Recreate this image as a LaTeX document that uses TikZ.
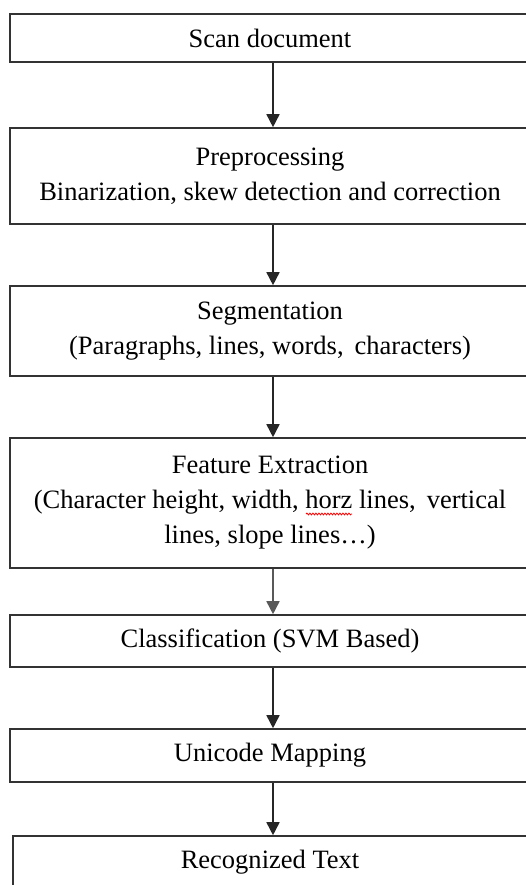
\documentclass[tikz,border=0pt]{standalone}
\usepackage{fontspec}
\setmainfont{Liberation Serif}
\usetikzlibrary{arrows.meta,decorations.pathmorphing}
\begin{document}
\begin{tikzpicture}[x=1pt,y=-1pt,
  stagebox/.style={draw=black!80, line width=1.6pt, rectangle, minimum width=520pt, inner sep=0pt,
    align=center, font=\fontsize{26.5pt}{35pt}\selectfont, text=black},
  arr/.style={draw=black!85, line width=1.6pt, -{Triangle[width=13pt,length=13pt]}},
  spell/.style={draw=red, line width=0.8pt, decorate, decoration={snake, amplitude=0.9pt, segment length=3pt}}]
\useasboundingbox (0,0) rectangle (525,885);
\fill[white] (0,0) rectangle (525,885);
\node[stagebox, minimum height=48pt] (b1) at (270,38) {Scan document};
\node[stagebox, minimum height=96pt] (b2) at (270,176) {Preprocessing\\Binarization, skew detection and correction};
\node[stagebox, minimum height=90pt] (b3) at (270,331) {Segmentation\\(Paragraphs, lines, words,\, characters)};
\node[stagebox, minimum height=130pt] (b4) at (270,503) {Feature Extraction\\(Character height, width, horz lines,\, vertical\\lines, slope lines\ldots)};
\node[stagebox, minimum height=52pt] (b5) at (270,641) {Classification (SVM Based)};
\node[stagebox, minimum height=53pt] (b6) at (270,755.5) {Unicode Mapping};
\node[stagebox, minimum height=52pt, minimum width=514pt] (b7) at (270,862) {Recognized Text};
\coordinate (ax) at (273,0);
\draw[arr] (b1.south -| ax) -- (b2.north -| ax);
\draw[arr] (b2.south -| ax) -- (b3.north -| ax);
\draw[arr] (b3.south -| ax) -- (b4.north -| ax);
\draw[arr, draw=black!65] (b4.south -| ax) -- (b5.north -| ax);
\draw[arr] (b5.south -| ax) -- (b6.north -| ax);
\draw[arr] (b6.south -| ax) -- (b7.north -| ax);
\coordinate (w1) at ([shift={(36,11)}]b4.center);
\coordinate (w2) at ([shift={(82,11)}]b4.center);
\draw[spell] (w1) -- (w2);
\end{tikzpicture}
\end{document}
